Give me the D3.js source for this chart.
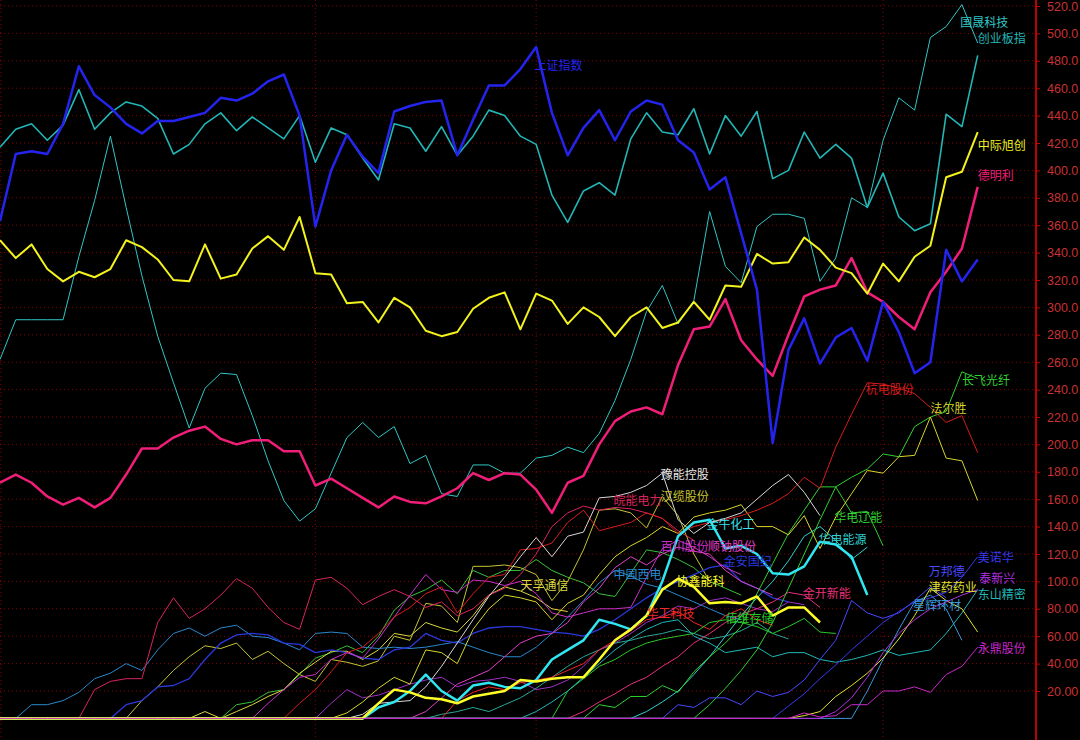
<!DOCTYPE html>
<html><head><meta charset="utf-8">
<script src="https://cdn.jsdelivr.net/npm/d3@7"></script>
<style>html,body{margin:0;padding:0;background:#000;overflow:hidden}</style>
</head><body>
<svg id="c" width="1080" height="740"></svg>
<script>
// ---------- DATA (63 trading days, index 0..62) ----------
const Z = n => new Array(n).fill(0); // leading days where a stock sits on the zero baseline

const yTickVals = [20,40,60,80,100,120,140,160,180,200,220,240,260,280,300,320,340,360,380,400,420,440,460,480,500,520];
const xGridIdx = [0, 20, 34, 56];

const shIndex = [363,412,414,412,434,476,455,446,434,427, 436,436,439,442,453,451,456,465,470,440, 359,400,426,410,398,443,447,450,451,411, 437,462,462,474,490,442,411,431,444,422, 443,451,448,422,413,386,395,354,313,201, 269,292,259,278,285,261,304,282,252,260, 342,319,335];
const chuangye = [417,430,434,422,433,459,430,442,450,447, 438,412,419,434,442,429,439,431,423,440, 406,431,426,409,393,434,431,414,432,411, 425,444,440,425,419,382,362,385,391,382, 423,442,428,426,445,412,440,425,443,394, 400,428,409,419,409,373,398,366,356,361, 441,432,484];
const guosheng = [262,291,291,291,291,337,378,425,373,323, 279,245,212,241,252,251,221,188,159,144, 153,179,205,216,205,213,186,192,164,162, 185,185,179,179,190,192,198,194,208,232, 262,297,316,288,305,370,330,318,359,368, 368,365,319,336,380,373,422,453,444,497, 505,521,493];
const zhongji = [349,336,346,328,319,326,322,328,349,344, 335,320,319,346,321,324,343,352,342,366, 325,324,303,304,289,307,300,283,279,282, 299,307,311,284,310,305,288,300,293,279, 293,300,285,289,304,291,316,315,339,332, 333,351,342,329,325,310,332,319,337,345, 395,399,428];
const deming = [172,178,172,162,156,161,154,161,178,197, 197,205,210,213,204,200,203,203,195,195, 170,175,168,161,154,162,158,157,162,168, 179,174,179,178,167,150,172,177,200,217, 224,227,222,258,284,286,306,276,262,250, 280,308,313,316,336,311,304,293,284,311, 326,343,388];

const hangdian = [...Z(19), 11,21,34,48,52,62,74,81,91,96, 77,91,103,105,123,124,128,143,152,137, 140,143,150,146,135,140,143,145,148,152, 157,164,176,168,198,222,245,244,241,237, 227,216,221,194];
const faersheng = [...Z(22), 4,12,22,30,25,50,48,40,65,80, 90,88,85,72,84,90,105,118,126,132, 140,135,147,150,152,156,140,140,134,148, 124,147,164,181,179,191,192,220,190,188, 159];
const hanlan = [...Z(8), 0,13,23,35,45,53,51,55,43,49, 40,32,27,43,41,38,42,60,57,84, 82,70,111,111,112,110,105,86,100,123, 152,153,150,139,162,148,120,100];
const yuneng = [...Z(23), 3,11,12,13,23,38,55,72,89,103, 118,132,118,133,136,161,162,165,170,179, 145,135,143,146,150,160,170,178,165,148];
const wanneng = [...Z(6), 21,27,29,29,70,88,73,80,90,102, 95,81,70,65,101,103,95,83,89,94, 89,81,85,75,80,90,95,105,120,140, 150,155,152,154,153,150,146,137,130];
const jinniu = [...Z(24), 8,12,20,32,20,13,24,26,23,22, 28,43,50,57,72,69,65,75,100,133, 143,145,124,126,120,106,105,111,129,127, 118,90];
const xiexin = [...Z(24), 11,21,19,15,14,11,16,18,20,28, 27,29,30,30,43,57,65,75,94,102, 96,84,85,84,89,75,81,81,70];
const xidian = [...Z(2), 10,10,13,19,29,33,40,35,50,62, 66,60,66,68,60,59,55,50,62,63, 62,52,51,52,51,52,54,56,52,48, 45,45,52,62,74,86,99,108,104,98, 95,90,85,80,75,72];
const jinan = [...Z(8), 10,13,23,24,29,43,55,61,62,61, 55,54,48,50,48,44,43,50,52,62, 57,55,62,66,67,67,65,63,62,60, 65,72,80,88,95,100,105,110,112,100, 95,88,85];
const baichuan = [...Z(17), 11,21,30,32,43,48,44,58,74,90, 105,94,92,101,100,97,100,91,77,74, 77,80,80,81,103,124,130,125,118,110, 105];
const shunna = [...Z(27), 5,15,25,30,35,45,55,60,62,70, 85,95,110,118,112,120,125,122,120,108, 100,95,90];
const tianfu = [...Z(13), 5,0,5,10,16,21,33,41,49,49, 43,50,62,60,70,66,63,75,90,96, 93,88,80,78];
const greenE = [...Z(15), 10,12,19,21,32,44,48,53,48,60, 79,89,94,101,91,108,103,108,108,116, 108,103,99,91,89,106,123,121,116,110, 100,95,90];
const purpleH = [...Z(21), 11,21,15,17,21,25,28,30,23,27, 28,30,27,21,23,28,38,50,55,62, 70,75,82,80,86,88,84,80,78,85, 83];
const huagong = [...Z(29), 13,19,23,21,26,28,30,35,40,50, 57,64,72,74,78,70,65,75,80,72, 68];
const jinkai = [...Z(37), 5,12,18,25,30,38,45,55,62,70,76,80,85,92,90,81];
const peiwei = [...Z(36), 20,29,38,43,50,55,58,60,62,70,72,70,67,62,67,73,63,62];
const liaoneng = [...Z(38), 10,8,16,16,24,19,34,45,55,67,91,113,135,152,169,169,150,151,126];
const changfei = [...Z(45), 10,22,35,50,70,95,120,145,169,176,182,193,191,213,220,224,253,248];
const hdnengyuan = [...Z(41), 5,12,20,32,45,60,75,88,100,115,133,140,130,116,125];
const yongding = [...Z(51), 4,1,2,10,10,20,20,23,19,32,38,52];
const meinuohua = [...Z(50), 9,18,29,39,50,60,70,78,85,88,92,103,118];
const wanbangde = [...Z(43), 10,8,15,15,10,20,16,19,28,43,57,86,77,73,77,86,96,88];
const jinyao = [...Z(51), 2,5,16,24,33,44,58,75,95,86,80,63];
const taixinxing = [...Z(53), 5,15,30,48,62,72,80,85,90,94];
const dongshan = [...Z(34), 5,12,20,30,40,50,58,65,70,72, 60,55,48,50,52,45,48,48,43,41, 43,46,50,46,48,50,62,77,94];
const xinghui = [...Z(55), 20,43,65,85,90,80,57];
const tealU = [...Z(28), 3,5,8,5,10,15,22,30,38,45, 50,55,57,60,62,65,62,58,60,64, 70,62,58];

// label texts with anchor (day index, value)
const labelText = ["国晟科技","创业板指","中际旭创","德明利","上证指数","杭电股份","法尔胜","长飞光纤","豫能控股","汉缆股份","皖能电力","金牛化工","华电辽能","华电能源","百川股份","顺钠股份","金安国纪","中国西电","天孚通信","协鑫能科","金开新能","华工科技","佰维存储","美诺华","万邦德","津药药业","泰新兴","东山精密","星辉环材","永鼎股份"];
const labelIdx  = [60.9,62,62,62,33.9,54.9,59,61,41.9,41.9,38.9,44.8,52.9,51.9,41.9,44.9,45.9,38.9,33,42.9,50.9,41,46,62,58.9,58.9,62.1,62,57.9,62];
const labelVal  = [505,493,415,393,473,237,223,243,175,159,156,138,143,127,122,122,111,102,94,97,88,73,70,114,104,92,99,87,79,48];

// ---------- STYLE ----------
const C = {
  sh:"#2424ee", cy:"#22b6b6", gs:"#30c6c6", zj:"#f2f21e", dm:"#f01e78",
  hd:"#d81c1c", fes:"#d6d62a", hl:"#c4c436", yn:"#d8d8d8", wn:"#d8245c",
  jn:"#30e6f0", xx:"#ffff28", xd:"#2a88cc", ja:"#2a38dc", bc:"#cc30cc",
  sn:"#e040c8", tf:"#d8d840", ge:"#38c038", ph:"#a030c8", hg:"#f02828",
  jk:"#e8307a", pw:"#28c828", ln:"#30d030", cf:"#30d030", ny:"#30d0d0",
  yd:"#c828c8", mn:"#3838f0", wb:"#4848ff", jy:"#e0e030", tx:"#b030e0",
  ds:"#20b8b8", xh:"#3898d8", tu:"#28a898"
};
const labelColor = [C.gs,C.cy,C.zj,C.dm,C.sh,C.hd,C.fes,C.cf,"#e8e8e8",C.hl,C.wn,C.jn,C.ln,C.ny,C.bc,C.sn,C.ja,C.xd,C.tf,C.xx,C.jk,C.hg,C.pw,C.mn,C.wb,C.jy,C.tx,C.ds,C.xh,C.yd];

const seriesList = [
  [tealU,C.tu,1],[purpleH,C.ph,1],[greenE,C.ge,1],[tianfu,C.tf,1],[hanlan,C.hl,1],
  [xidian,C.xd,1],[jinan,C.ja,1.3],[wanneng,C.wn,1],[baichuan,C.bc,1],[shunna,C.sn,1],
  [huagong,C.hg,1],[jinkai,C.jk,1],[peiwei,C.pw,1],[dongshan,C.ds,1],[hdnengyuan,C.ny,1],
  [liaoneng,C.ln,1],[changfei,C.cf,1],[faersheng,C.fes,1],[hangdian,C.hd,1],[yuneng,C.yn,1],
  [wanbangde,C.wb,1],[meinuohua,C.mn,1],[xinghui,C.xh,1],[jinyao,C.jy,1],[taixinxing,C.tx,1],
  [jinniu,C.jn,2.5],[xiexin,C.xx,2.5],[yongding,C.yd,1],
  [guosheng,C.gs,1],[chuangye,C.cy,1.6],[deming,C.dm,2.5],[zhongji,C.zj,2],[shIndex,C.sh,2.5]
];

// ---------- DRAW ----------
const W = 1080, H = 740, axisX = 1036;
const svg = d3.select("#c");
svg.append("rect").attr("width",W).attr("height",H).attr("fill","#000");

const x = d3.scaleLinear().domain([0,62]).range([0,977.7]);
const y = d3.scaleLinear().domain([0,520]).range([718.4,6]);

const grid = svg.append("g");
grid.selectAll("line.h").data(yTickVals).join("line").attr("class","h")
  .attr("x1",0).attr("x2",axisX).attr("y1",d=>y(d)).attr("y2",d=>y(d))
  .attr("stroke","#8a0000").attr("stroke-width",1).attr("stroke-dasharray","1,3");
grid.selectAll("line.v").data(xGridIdx).join("line").attr("class","v")
  .attr("x1",d=>Math.max(1,x(d))).attr("x2",d=>Math.max(1,x(d))).attr("y1",0).attr("y2",H)
  .attr("stroke","#8a0000").attr("stroke-width",1).attr("stroke-dasharray","1,3");

const line = d3.line().defined(d=>d!=null).x((d,i)=>x(i)).y(d=>y(d));
const lg = svg.append("g").attr("fill","none").attr("stroke-linejoin","round");
seriesList.forEach(([data,col,w])=>{
  lg.append("path").attr("d",line(data)).attr("stroke",col).attr("stroke-width",w);
});

const tg = svg.append("g").style("font-family",'"Noto Sans CJK SC","Noto Sans",sans-serif').style("font-size","12px");
labelText.forEach((t,k)=>{
  tg.append("text").attr("x",x(labelIdx[k])).attr("y",y(labelVal[k])).attr("fill",labelColor[k]).text(t);
});

const axis = d3.axisRight(y).tickValues(yTickVals).tickSize(4).tickPadding(7)
  .tickFormat(v => v >= 100 ? v.toFixed(1) : v.toFixed(2));
const ga = svg.append("g").attr("transform",`translate(${axisX},0)`).call(axis);
ga.select(".domain").remove();
ga.selectAll(".tick line").attr("stroke","#c00000");
ga.selectAll(".tick text").attr("fill","#c83232")
  .style("font-family",'"Liberation Sans",Arial,sans-serif').style("font-size","12.5px");
svg.append("line").attr("x1",axisX).attr("x2",axisX).attr("y1",0).attr("y2",H)
  .attr("stroke","#c00000").attr("stroke-width",2);
</script>
</body></html>
